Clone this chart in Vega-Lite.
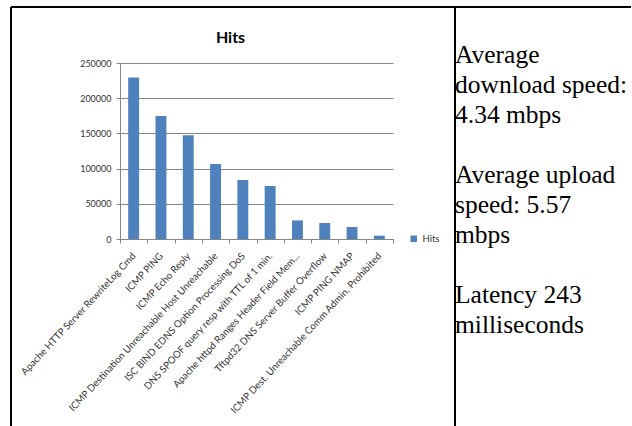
{
  "$schema": "https://vega.github.io/schema/vega-lite/v6.json",
  "padding": {"left": 10, "top": 6, "right": 0, "bottom": 0},
  "background": "white",
  "config": {"view": {"stroke": null}, "text": {"font": "Times New Roman, Liberation Serif, serif"}},
  "datasets": {
    "hits": [
      {"signature": "Apache HTTP Server RewriteLog Cmd", "hits": 229500, "series": "Hits"},
      {"signature": "ICMP PING", "hits": 174700, "series": "Hits"},
      {"signature": "ICMP Echo Reply", "hits": 147200, "series": "Hits"},
      {"signature": "ICMP Destination Unreachable Host Unreachable", "hits": 106500, "series": "Hits"},
      {"signature": "ISC BIND EDNS Option Processing DoS", "hits": 83800, "series": "Hits"},
      {"signature": "DNS SPOOF query resp with TTL of 1 min.", "hits": 75300, "series": "Hits"},
      {"signature": "Apache httpd Ranges Header Field Mem...", "hits": 26400, "series": "Hits"},
      {"signature": "Tftpd32 DNS Server Buffer Overflow", "hits": 22700, "series": "Hits"},
      {"signature": "ICMP PING NMAP", "hits": 17000, "series": "Hits"},
      {"signature": "ICMP Dest. Unreachable Comm Admin. Prohibited", "hits": 4700, "series": "Hits"}
    ],
    "notes": [
      {"line": 0, "text": "Average"},
      {"line": 1, "text": "download speed:"},
      {"line": 2, "text": "4.34 mbps"},
      {"line": 4, "text": "Average upload"},
      {"line": 5, "text": "speed: 5.57"},
      {"line": 6, "text": "mbps"},
      {"line": 8, "text": "Latency 243"},
      {"line": 9, "text": "milliseconds"}
    ],
    "cell": [{"border": "table"}]
  },
  "columns": 4,
  "spacing": 0,
  "bounds": "flush",
  "concat": [
    {
      "width": 109, "height": 56,
      "data": {"name": "cell"},
      "layer": [
        {"mark": {"type": "rule", "color": "black", "strokeWidth": 2},
         "encoding": {"y": {"datum": 1, "type": "quantitative", "scale": {"domain": [0, 1]}, "axis": null}}},
        {"mark": {"type": "rule", "color": "black", "strokeWidth": 2},
         "encoding": {"x": {"datum": 0, "type": "quantitative", "scale": {"domain": [0, 1]}, "axis": null}}}
      ]
    },
    {
      "width": 273, "height": 56,
      "data": {"name": "cell"},
      "mark": {"type": "rule", "color": "black", "strokeWidth": 2},
      "encoding": {"y": {"datum": 1, "type": "quantitative", "scale": {"domain": [0, 1]}, "axis": null}}
    },
    {
      "width": 62, "height": 56,
      "data": {"name": "cell"},
      "mark": {"type": "rule", "color": "black", "strokeWidth": 2},
      "encoding": {"y": {"datum": 1, "type": "quantitative", "scale": {"domain": [0, 1]}, "axis": null}}
    },
    {
      "width": 176, "height": 56,
      "data": {"name": "cell"},
      "layer": [
        {"mark": {"type": "rule", "color": "black", "strokeWidth": 2},
         "encoding": {"y": {"datum": 1, "type": "quantitative", "scale": {"domain": [0, 1]}, "axis": null}}},
        {"mark": {"type": "rule", "color": "black", "strokeWidth": 2},
         "encoding": {"x": {"datum": 0, "type": "quantitative", "scale": {"domain": [0, 1]}, "axis": null}}}
      ]
    },
    {
      "width": 109, "height": 363,
      "data": {"name": "cell"},
      "mark": {"type": "rule", "color": "black", "strokeWidth": 2},
      "encoding": {"x": {"datum": 0, "type": "quantitative", "scale": {"domain": [0, 1]}, "axis": null}}
    },
    {
      "width": 273, "height": 176,
      "data": {"name": "hits"},
      "title": {"text": "Hits", "font": "Lato", "fontSize": 16, "fontWeight": "bold", "color": "black", "anchor": "middle", "dx": -26, "baseline": "alphabetic", "offset": 0},
      "mark": {"type": "bar", "width": {"band": 0.4}},
      "encoding": {
        "x": {
          "field": "signature", "type": "nominal", "sort": null,
          "scale": {"paddingInner": 0, "paddingOuter": 0},
          "axis": {"title": null, "labelAngle": -47, "labelFont": "Lato", "labelFontSize": 9.8, "labelColor": "#333333", "labelLimit": 400, "labelPadding": 11, "tickBand": "extent", "tickSize": 4, "tickColor": "#868686", "domainColor": "#868686", "grid": false}
        },
        "y": {
          "field": "hits", "type": "quantitative",
          "scale": {"domain": [0, 250000], "nice": false},
          "axis": {"title": null, "values": [0, 50000, 100000, 150000, 200000, 250000], "format": "d", "labelFont": "Lato", "labelFontSize": 9, "labelColor": "#333333", "labelPadding": 5, "tickSize": 4, "tickColor": "#868686", "domainColor": "#868686", "gridColor": "#868686"}
        },
        "color": {
          "field": "series", "type": "nominal",
          "scale": {"range": ["#4f81bd"]},
          "legend": {"title": null, "orient": "none", "legendX": 398, "legendY": 227, "symbolType": "square", "symbolSize": 42, "symbolStrokeWidth": 0, "labelFont": "Lato", "labelFontSize": 9.5, "labelColor": "#333333", "padding": 0}
        }
      }
    },
    {
      "width": 62, "height": 363,
      "data": {"values": []},
      "mark": "rule",
      "encoding": {}
    },
    {
      "width": 176, "height": 363,
      "layer": [
        {
          "data": {"name": "cell"},
          "mark": {"type": "rule", "color": "black", "strokeWidth": 2},
          "encoding": {"x": {"datum": 0, "type": "quantitative", "scale": {"domain": [0, 1]}, "axis": null}}
        },
        {
          "data": {"name": "notes"},
          "mark": {"type": "text", "font": "Times New Roman, Liberation Serif, serif", "fontSize": 25.5, "align": "left", "baseline": "alphabetic", "color": "black"},
          "encoding": {
            "x": {"datum": 0, "type": "quantitative", "scale": {"domain": [0, 1]}, "axis": null},
            "y": {"field": "line", "type": "quantitative", "scale": {"domain": [0, 12.1], "reverse": true, "nice": false, "zero": false}, "axis": null},
            "text": {"field": "text"}
          }
        }
      ]
    }
  ]
}
